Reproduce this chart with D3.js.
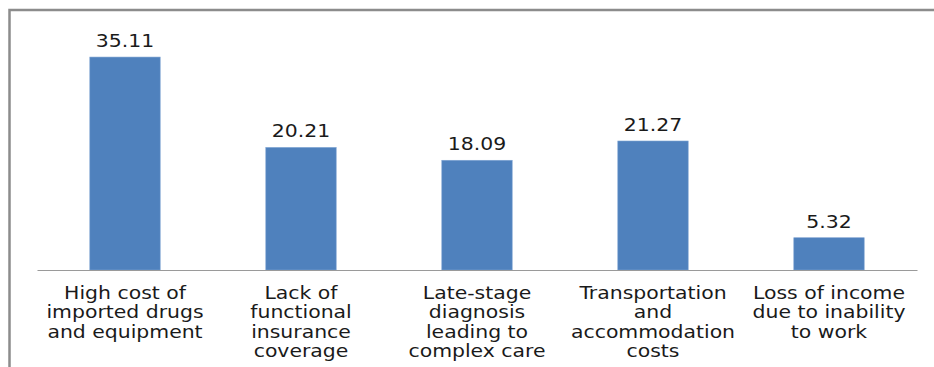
<!DOCTYPE html>
<html>
<head>
<meta charset="utf-8">
<script src="https://cdn.jsdelivr.net/npm/d3@7"></script>
<style>
  html, body { margin: 0; padding: 0; background: #fff; }
  svg { display: block; }
  text { font-family: "DejaVu Sans", sans-serif; fill: #1a1a1a; }
</style>
</head>
<body>
<svg id="chart" width="934" height="367"></svg>
<script>
// Cost burdens and their shares
const categories = [
  ["High cost of", "imported drugs", "and equipment"],
  ["Lack of", "functional", "insurance", "coverage"],
  ["Late-stage", "diagnosis", "leading to", "complex care"],
  ["Transportation", "and", "accommodation", "costs"],
  ["Loss of income", "due to inability", "to work"]
];
const values = [35.11, 20.21, 18.09, 21.27, 5.32];
const valueLabels = ["35.11", "20.21", "18.09", "21.27", "5.32"];

const svg = d3.select("#chart");
const W = 934, H = 367;

// Outer frame (cut off at the right and bottom edges)
svg.append("rect")
  .attr("x", 9.5).attr("y", 10)
  .attr("width", W + 20).attr("height", H + 20)
  .attr("fill", "none")
  .attr("stroke", "#8c8c8c")
  .attr("stroke-width", 2.5);

const plot = { left: 37, right: 917, top: 27.4, bottom: 270 };

const x = d3.scaleBand()
  .domain(d3.range(values.length))
  .range([plot.left, plot.right])
  .paddingInner(0.6)
  .paddingOuter(0.3);

const y = d3.scaleLinear()
  .domain([0, 40])
  .range([plot.bottom, plot.top]);

// Bars
svg.append("g").selectAll("rect")
  .data(values)
  .join("rect")
  .attr("x", (d, i) => x(i))
  .attr("y", d => y(d))
  .attr("width", x.bandwidth())
  .attr("height", d => y(0) - y(d))
  .attr("fill", "#4f81bd")
  .attr("stroke", "#7ea3d2")
  .attr("stroke-width", 0.6);

// Category axis line
const axis = d3.axisBottom(x).tickSize(0).tickFormat("");
const gAxis = svg.append("g")
  .attr("transform", `translate(0,${plot.bottom})`)
  .call(axis);
gAxis.select(".domain").attr("stroke", "#9a9a9a").attr("stroke-width", 1.2);

const stretch = 1.2;
const fontSize = 17;

// Value labels above bars
svg.append("g").selectAll("g")
  .data(values)
  .join("g")
  .attr("transform", (d, i) => `translate(${x(i) + x.bandwidth() / 2},${y(d) - 10}) scale(${stretch},1)`)
  .append("text")
  .attr("text-anchor", "middle")
  .attr("font-size", fontSize)
  .text((d, i) => valueLabels[i]);

// Multi-line category labels
const lineGap = 19.5;
const firstBaseline = 299;
const catG = svg.append("g").selectAll("g")
  .data(categories)
  .join("g")
  .attr("transform", (d, i) => `translate(${x(i) + x.bandwidth() / 2},${firstBaseline}) scale(${stretch},1)`);
catG.append("text")
  .attr("text-anchor", "middle")
  .attr("font-size", fontSize)
  .selectAll("tspan")
  .data(d => d)
  .join("tspan")
  .attr("x", 0)
  .attr("y", (d, j) => j * lineGap)
  .text(d => d);
</script>
</body>
</html>
